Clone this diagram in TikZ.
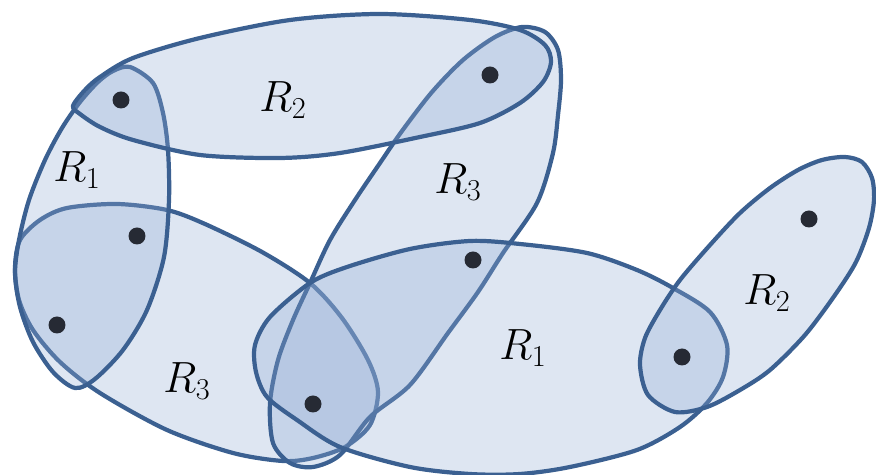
\documentclass[tikz,border=0pt]{standalone}
\usepackage{amsmath}
\usepackage{tikz}
\definecolor{edgeblue}{RGB}{59,96,145}
\definecolor{fillblue}{RGB}{145,172,212}
\definecolor{dotgray}{RGB}{38,42,52}
\tikzset{
    hyperedge/.style={draw=edgeblue, line width=2.4pt, fill=fillblue, fill opacity=0.3, line join=round},
    vertex/.style={circle, fill=dotgray, minimum size=0.34cm, inner sep=0pt},
    rellabel/.style={inner sep=0pt, font=\fontsize{27}{32}\selectfont}
}

\begin{document}
\begin{tikzpicture}[x=0.02cm, y=-0.02cm]
\useasboundingbox (0,0) rectangle (876,475);
\draw[hyperedge] plot[smooth cycle] coordinates {(15,268) (20,240) (40,220) (67,208) (117,204) (167,210) (205,224) (262,252) (310,283) (342,318) (368,360) (378,392) (370,425) (345,447) (313,458) (283,461) (233,453) (167,430) (100,393) (60,362) (33,330) (19,300)};
\draw[hyperedge] plot[smooth cycle] coordinates {(130,67) (153,83) (163,113) (168,150) (169,200) (164,257) (147,310) (123,350) (95,379) (75,388) (53,372) (33,342) (20,307) (15,273) (19,240) (29,200) (45,160) (62,128) (80,102) (98,82) (113,71)};
\draw[hyperedge] plot[smooth cycle] coordinates {(522,27) (545,32) (558,50) (561,80) (558,115) (553,153) (537,203) (503,253) (478,292) (448,333) (410,385) (370,417) (340,455) (313,467) (290,463) (273,443) (270,403) (278,360) (293,320) (310,283) (330,240) (355,200) (380,163) (402,131) (432,92) (463,60) (495,37)};
\draw[hyperedge] plot[smooth cycle] coordinates {(73,106) (85,90) (100,77) (133,58) (200,38) (290,20) (380,14) (470,20) (520,30) (545,45) (551,62) (543,82) (520,103) (480,123) (420,137) (340,153) (280,158) (200,155) (133,140) (100,127) (80,114)};
\draw[hyperedge] plot[smooth cycle] coordinates {(255,345) (256,372) (267,397) (297,420) (340,447) (410,467) (470,474) (520,474) (570,467) (637,450) (680,427) (707,403) (723,377) (727,345) (710,312) (673,288) (637,270) (587,253) (520,244) (470,241) (410,249) (347,267) (310,283) (270,317)};
\draw[hyperedge] plot[smooth cycle] coordinates {(640,365) (648,395) (675,412) (707,407) (740,390) (770,370) (805,335) (835,295) (856,262) (869,228) (874,200) (872,178) (862,162) (845,157) (822,160) (798,170) (770,188) (740,213) (710,245) (680,280) (660,310) (645,338)};
\node[vertex] (v1) at (121,100) {};
\node[vertex] (v2) at (137,236) {};
\node[vertex] (v3) at (57,325) {};
\node[vertex] (v4) at (490,75) {};
\node[vertex] (v5) at (473,260) {};
\node[vertex] (v6) at (313,404) {};
\node[vertex] (v7) at (682,357) {};
\node[vertex] (v8) at (809,219) {};
\node[rellabel] (r2top) at (283,100) {$R_2$};
\node[rellabel] (r1left) at (77,170) {$R_1$};
\node[rellabel] (r3mid) at (458,182) {$R_3$};
\node[rellabel] (r3low) at (187,381) {$R_3$};
\node[rellabel] (r1low) at (523,348) {$R_1$};
\node[rellabel] (r2right) at (767,293) {$R_2$};
\end{tikzpicture}
\end{document}
